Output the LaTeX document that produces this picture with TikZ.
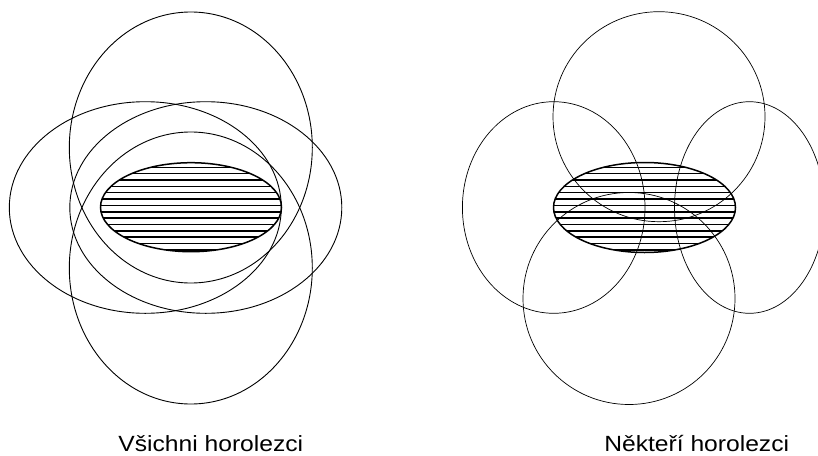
\documentclass[tikz,border=0pt]{standalone}
\usepackage{fontspec}
\setmainfont{Liberation Sans}

\begin{document}
\begin{tikzpicture}[
  x=1pt, y=-1pt,
  climber/.style={draw, line width=0.9pt},
  fewclimber/.style={draw, line width=0.7pt},
  mountain/.style={draw, line width=1.5pt},
  hatch/.style={line width=1.5pt},
  caption/.style={anchor=base, inner sep=0pt, font=\fontsize{22}{26}\selectfont}
]
\useasboundingbox (0,0) rectangle (818,455);
\clip (0,0) rectangle (818,455);

% left: every climber covers the mountain
\begin{scope}
  \clip (191,207.2) ellipse [x radius=90.5, y radius=44.5];
  \foreach \y in {167.3,173.65,...,251} \draw[hatch] (95,\y) -- (287,\y);
\end{scope}
\draw[mountain] (191,207.2) ellipse [x radius=90.5, y radius=44.5];

\draw[climber] (190.8,147.5) ellipse [x radius=121.5, y radius=135.5];
\draw[climber] (190.8,268) ellipse [x radius=121.5, y radius=136];
\draw[climber] (145.3,207.5) ellipse [x radius=136, y radius=105.8];
\draw[climber] (205.8,207.5) ellipse [x radius=136, y radius=105.8];

% right: only some of them
\begin{scope}
  \clip (644.5,207.5) ellipse [x radius=91, y radius=45];
  \foreach \y in {167.3,173.65,...,251} \draw[hatch] (550,\y) -- (740,\y);
\end{scope}
\draw[mountain] (644.5,207.5) ellipse [x radius=91, y radius=45];

\draw[fewclimber] (659,116.7) ellipse [x radius=106, y radius=105];
\draw[fewclimber] (553.7,207.5) ellipse [x radius=91.3, y radius=105.8];
\draw[fewclimber] (749.5,207.5) ellipse [x radius=75, y radius=105.8];
\draw[fewclimber] (629,298.5) ellipse [x radius=106, y radius=106];

\node[caption] (all) at (210.8,451.7) {\scalebox{1.12}[1]{Všichni horolezci}};
\node[caption] (some) at (696.7,451.7) {\scalebox{1.12}[1]{Někteří horolezci}};
\end{tikzpicture}
\end{document}
